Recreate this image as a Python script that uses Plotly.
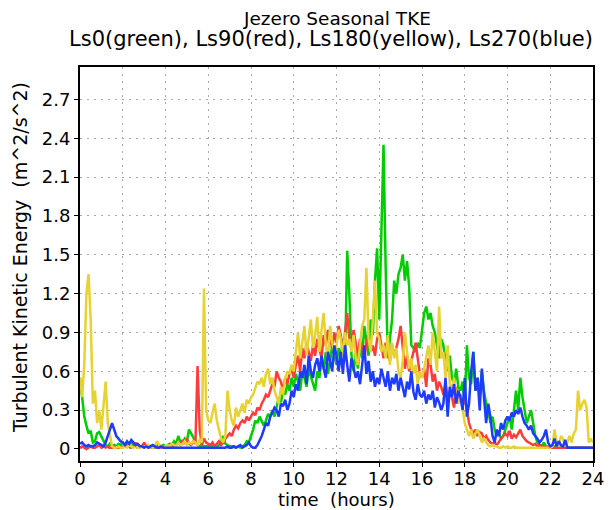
import plotly.graph_objects as go

# time axis, one sample every 0.1 hour
hours = [i / 10 for i in range(241)]

tke_ls0 = [
    0.55, 0.40, 0.25, 0.18, 0.12, 0.14, 0.05, 0.06, 0.12, 0.13,
    0.10, 0.06, 0.03, 0.02, 0.04, 0.02, 0.03, 0.02, 0.04, 0.03,
    0.05, 0.03, 0.04, 0.02, 0.06, 0.03, 0.02, 0.03, 0.02, 0.02,
    0.01, 0.02, 0.01, 0.02, 0.01, 0.02, 0.03, 0.02, 0.02, 0.03,
    0.02, 0.03, 0.04, 0.03, 0.06, 0.04, 0.10, 0.05, 0.04, 0.08,
    0.06, 0.15, 0.12, 0.09, 0.05, 0.03, 0.02, 0.03, 0.02, 0.02,
    0.02, 0.03, 0.02, 0.01, 0.02, 0.03, 0.05, 0.10, 0.04, 0.03,
    0.02, 0.02, 0.02, 0.01, 0.02, 0.01, 0.02, 0.03, 0.06, 0.05,
    0.10, 0.15, 0.22, 0.20, 0.25, 0.22, 0.18, 0.22, 0.27, 0.25,
    0.30, 0.25, 0.33, 0.40, 0.36, 0.45, 0.42, 0.50, 0.45, 0.55,
    0.48, 0.58, 0.52, 0.45, 0.60, 0.55, 0.48, 0.62, 0.56, 0.50,
    0.45, 0.60, 0.55, 0.70, 0.62, 0.75, 0.58, 0.68, 0.80, 0.72,
    0.65, 0.78, 0.70, 0.85, 0.68, 1.53, 1.20, 0.72, 0.60, 0.75,
    0.62, 0.80, 0.70, 0.95, 0.85, 0.72, 1.00, 0.88, 1.30, 1.55,
    1.00, 1.60, 2.35, 1.40, 0.70, 0.85, 1.00, 1.30, 1.20, 1.35,
    1.40, 1.50, 1.30, 1.45, 1.25, 0.80, 0.78, 0.75, 0.82, 0.78,
    0.90, 1.05, 1.10, 1.00, 1.05, 0.95, 0.90, 0.80, 0.70, 0.85,
    0.80, 0.68, 0.60, 0.72, 0.55, 0.50, 0.62, 0.48, 0.45, 0.52,
    0.35, 0.80, 0.55, 0.50, 0.75, 0.45, 0.55, 0.40, 0.60, 0.45,
    0.35, 0.30, 0.20, 0.25, 0.15, 0.10, 0.12, 0.08, 0.10, 0.15,
    0.20, 0.25, 0.15, 0.30, 0.45, 0.30, 0.55, 0.40, 0.30, 0.20,
    0.25, 0.30, 0.20, 0.10, 0.05, 0.03, 0.02, 0.05, 0.02, 0.01,
    0.01, 0.01, 0.02, 0.01, 0.01, 0.01, 0.02, 0.01, 0.01, 0.01,
    0.01, 0.01, 0.01, 0.01, 0.01, 0.01, 0.01, 0.01, 0.01, 0.01,
    0.01,
]

tke_ls90 = [
    0.01, 0.02, 0.01, 0.00, 0.01, 0.02, 0.01, 0.01, 0.02, 0.03,
    0.01, 0.02, 0.01, 0.02, 0.01, 0.01, 0.02, 0.01, 0.01, 0.02,
    0.01, 0.02, 0.03, 0.02, 0.01, 0.02, 0.05, 0.02, 0.01, 0.02,
    0.05, 0.02, 0.01, 0.02, 0.02, 0.01, 0.02, 0.03, 0.01, 0.02,
    0.01, 0.02, 0.01, 0.02, 0.03, 0.02, 0.05, 0.03, 0.07, 0.04,
    0.08, 0.04, 0.03, 0.06, 0.04, 0.64, 0.15, 0.03, 0.08, 0.05,
    0.04, 0.03, 0.05, 0.02, 0.04, 0.06, 0.03, 0.05, 0.08, 0.10,
    0.12, 0.10, 0.15, 0.18, 0.16, 0.20, 0.22, 0.20, 0.25, 0.22,
    0.25, 0.28, 0.26, 0.32, 0.30, 0.35, 0.38, 0.42, 0.40, 0.45,
    0.50, 0.48, 0.60, 0.55, 0.52, 0.45, 0.55, 0.50, 0.58, 0.62,
    0.55, 0.65, 0.72, 0.60, 0.78, 0.70, 0.82, 0.75, 0.68, 0.80,
    0.72, 0.85, 0.78, 0.70, 0.88, 0.80, 0.92, 0.85, 0.78, 0.90,
    0.82, 0.95, 0.88, 0.75, 0.90, 1.05, 0.85, 0.78, 0.92, 0.80,
    0.72, 0.85, 0.78, 0.70, 0.82, 0.88, 0.75, 0.80, 0.72, 0.85,
    0.90, 0.78, 0.70, 0.82, 0.75, 0.68, 0.80, 0.72, 0.78, 0.85,
    0.95, 0.78, 0.62, 0.72, 0.60, 0.68, 0.75, 0.82, 0.70, 0.58,
    0.55, 0.62, 0.48, 0.70, 0.65, 0.52, 0.58, 0.45, 0.52, 0.48,
    0.42, 0.50, 0.38, 0.45, 0.40, 0.32, 0.48, 0.36, 0.42, 0.35,
    0.40, 0.28, 0.20, 0.15, 0.12, 0.15, 0.10, 0.13, 0.12, 0.08,
    0.10, 0.07, 0.05, 0.04, 0.05, 0.03, 0.06, 0.08, 0.10, 0.12,
    0.10, 0.14, 0.08, 0.11, 0.09, 0.12, 0.15, 0.10, 0.08, 0.06,
    0.05, 0.04, 0.03, 0.04, 0.02, 0.03, 0.02, 0.02, 0.01, 0.02,
    0.01, 0.01, 0.01, 0.01, 0.01, 0.01, 0.01, 0.01, 0.01, 0.01,
    0.01, 0.01, 0.01, 0.01, 0.01, 0.01, 0.01, 0.01, 0.01, 0.01,
    0.01,
]

tke_ls180 = [
    0.55, 0.40, 0.65, 1.20, 1.35, 1.00, 0.35, 0.45, 0.20, 0.30,
    0.15, 0.35, 0.52, 0.20, 0.12, 0.02, 0.01, 0.01, 0.02, 0.01,
    0.01, 0.02, 0.01, 0.03, 0.02, 0.01, 0.02, 0.01, 0.01, 0.02,
    0.01, 0.02, 0.03, 0.02, 0.01, 0.02, 0.06, 0.03, 0.02, 0.01,
    0.02, 0.03, 0.02, 0.04, 0.03, 0.02, 0.05, 0.03, 0.04, 0.06,
    0.03, 0.05, 0.04, 0.06, 0.05, 0.03, 0.07, 0.05, 1.24, 0.30,
    0.22, 0.20, 0.28, 0.35, 0.22, 0.15, 0.08, 0.05, 0.10, 0.45,
    0.30, 0.22, 0.18, 0.32, 0.25, 0.30, 0.35, 0.28, 0.38, 0.35,
    0.40, 0.42, 0.48, 0.52, 0.50, 0.55, 0.48, 0.58, 0.62, 0.50,
    0.55, 0.45, 0.40, 0.35, 0.48, 0.42, 0.55, 0.60, 0.58, 0.65,
    0.60, 0.75, 0.90, 0.70, 0.82, 0.95, 0.72, 0.85, 1.00, 0.78,
    0.88, 1.02, 0.75, 0.92, 1.05, 0.80, 0.70, 0.95, 0.82, 0.75,
    0.80, 0.92, 0.85, 0.72, 0.90, 0.80, 0.85, 0.75, 0.88, 0.70,
    0.65, 0.80, 0.95, 1.00, 1.40, 0.85, 0.75, 1.00, 1.30, 0.90,
    0.85, 0.75, 0.80, 0.70, 0.88, 0.65, 0.82, 0.70, 0.78, 0.60,
    0.55, 0.68, 0.90, 0.75, 0.62, 0.70, 0.58, 0.65, 0.50, 0.60,
    0.55, 0.62, 0.70, 0.80, 0.65, 0.90, 0.75, 0.60, 1.10, 0.70,
    0.75, 0.55, 0.80, 0.50, 0.45, 0.55, 0.40, 0.35, 0.42, 0.30,
    0.20, 0.15, 0.10, 0.15, 0.08, 0.12, 0.15, 0.10, 0.05, 0.08,
    0.05, 0.03, 0.02, 0.03, 0.02, 0.02, 0.01, 0.01, 0.02, 0.01,
    0.02, 0.01, 0.01, 0.02, 0.01, 0.01, 0.01, 0.01, 0.01, 0.01,
    0.01, 0.01, 0.01, 0.01, 0.01, 0.01, 0.01, 0.01, 0.01, 0.01,
    0.01, 0.02, 0.15, 0.05, 0.02, 0.10, 0.08, 0.02, 0.05, 0.10,
    0.05, 0.12, 0.15, 0.45, 0.30, 0.35, 0.38, 0.32, 0.05, 0.08,
    0.05,
]

tke_ls270 = [
    0.04, 0.05, 0.03, 0.02, 0.03, 0.02, 0.02, 0.03, 0.05, 0.04,
    0.03, 0.02, 0.05, 0.10, 0.15, 0.20, 0.15, 0.10, 0.08, 0.06,
    0.05, 0.03, 0.06, 0.04, 0.07, 0.05, 0.03, 0.04, 0.02, 0.02,
    0.01, 0.02, 0.01, 0.02, 0.03, 0.02, 0.01, 0.01, 0.02, 0.01,
    0.01, 0.01, 0.01, 0.01, 0.01, 0.01, 0.01, 0.01, 0.01, 0.01,
    0.01, 0.01, 0.01, 0.01, 0.01, 0.01, 0.01, 0.01, 0.01, 0.01,
    0.01, 0.01, 0.01, 0.01, 0.01, 0.01, 0.01, 0.01, 0.01, 0.02,
    0.01, 0.01, 0.02, 0.01, 0.02, 0.03, 0.01, 0.02, 0.03, 0.05,
    0.02, 0.01, 0.01, 0.03, 0.06, 0.10, 0.15, 0.20, 0.18, 0.25,
    0.28, 0.32, 0.30, 0.25, 0.35, 0.33, 0.38, 0.30, 0.35, 0.45,
    0.40, 0.50, 0.45, 0.60, 0.55, 0.65, 0.50, 0.72, 0.60, 0.55,
    0.65, 0.70, 0.60, 0.72, 0.62, 0.55, 0.75, 0.68, 0.60, 0.80,
    0.72, 0.60, 0.75, 0.58, 0.80, 0.65, 0.52, 0.70, 0.62, 0.55,
    0.60, 0.50, 0.65, 0.80, 0.58, 0.68, 0.52, 0.60, 0.48, 0.55,
    0.50, 0.62, 0.55, 0.48, 0.60, 0.45, 0.55, 0.50, 0.58, 0.45,
    0.55, 0.48, 0.40, 0.52, 0.46, 0.60, 0.44, 0.38, 0.50, 0.42,
    0.40, 0.45, 0.35, 0.42, 0.38, 0.45, 0.32, 0.40, 0.36, 0.30,
    0.35, 0.55, 0.25, 0.48, 0.40, 0.50, 0.35, 0.45, 0.40, 0.30,
    0.55, 0.25, 0.35, 0.60, 0.75, 0.45, 0.55, 0.30, 0.62, 0.40,
    0.20, 0.35, 0.25, 0.10, 0.05, 0.15, 0.10, 0.20, 0.15, 0.22,
    0.25, 0.22, 0.28, 0.25, 0.30, 0.27, 0.32, 0.25, 0.20, 0.18,
    0.15, 0.18, 0.12, 0.10, 0.08, 0.05, 0.07, 0.10, 0.15, 0.05,
    0.02, 0.03, 0.08, 0.02, 0.06, 0.03, 0.02, 0.07, 0.01, 0.01,
    0.01, 0.01, 0.01, 0.01, 0.01, 0.01, 0.01, 0.01, 0.01, 0.01,
    0.01,
]

series = [
    ("Ls0", tke_ls0, "#00cc00"),
    ("Ls90", tke_ls90, "#ff3c3c"),
    ("Ls180", tke_ls180, "#e6d232"),
    ("Ls270", tke_ls270, "#1e3cff"),
]

x_ticks = list(range(0, 25, 2))
y_ticks = [0, 0.3, 0.6, 0.9, 1.2, 1.5, 1.8, 2.1, 2.4, 2.7]
y_labels = ["0", "0.3", "0.6", "0.9", "1.2", "1.5", "1.8", "2.1", "2.4", "2.7"]

fig = go.Figure()
for name, vals, color in series:
    fig.add_trace(
        go.Scatter(x=hours, y=vals, name=name, mode="lines",
                   line=dict(color=color, width=2.5))
    )

font_name = "DejaVu Sans"

# page body adds an 8px margin, so the figure is trimmed by that much
fig.update_layout(
    width=605,
    height=502,
    margin=dict(l=72, r=20, t=59, b=49, autoexpand=False),
    paper_bgcolor="white",
    plot_bgcolor="white",
    showlegend=False,
    font=dict(family=font_name, color="black", size=18),
)

axis_common = dict(
    showgrid=True,
    gridcolor="#a8a8a8",
    griddash="2px,5px",
    gridwidth=1,
    showline=True,
    linecolor="black",
    linewidth=2,
    mirror=True,
    ticks="outside",
    ticklen=4,
    tickcolor="black",
    zeroline=False,
    automargin=False,
    tickfont=dict(size=18),
)

fig.update_xaxes(range=[0, 24], tickvals=x_ticks, ticklabelstandoff=-4, **axis_common)
fig.update_yaxes(range=[-0.093, 2.95], tickvals=y_ticks, ticktext=y_labels, **axis_common)

# titles placed as annotations so the plot frame stays put
fig.add_annotation(text="Jezero Seasonal TKE", xref="paper", yref="paper",
                   x=0.5, y=1, yshift=49, yanchor="middle", showarrow=False,
                   borderpad=0, font=dict(size=18.5))
fig.add_annotation(text="Ls0(green), Ls90(red), Ls180(yellow), Ls270(blue)",
                   xref="paper", yref="paper", x=0.49, y=1, yshift=28,
                   yanchor="middle", showarrow=False, borderpad=0,
                   font=dict(size=21))
fig.add_annotation(text="time  (hours)", xref="paper", yref="paper",
                   x=0.5, y=0, yshift=-38, yanchor="middle", showarrow=False,
                   borderpad=0, font=dict(size=18))
fig.add_annotation(text="Turbulent Kinetic Energy  (m^2/s^2)", xref="paper",
                   yref="paper", x=0, xshift=-60, xanchor="center", y=0.515,
                   yanchor="middle", textangle=-90, showarrow=False,
                   font=dict(size=19))

fig.write_html("out.html")
